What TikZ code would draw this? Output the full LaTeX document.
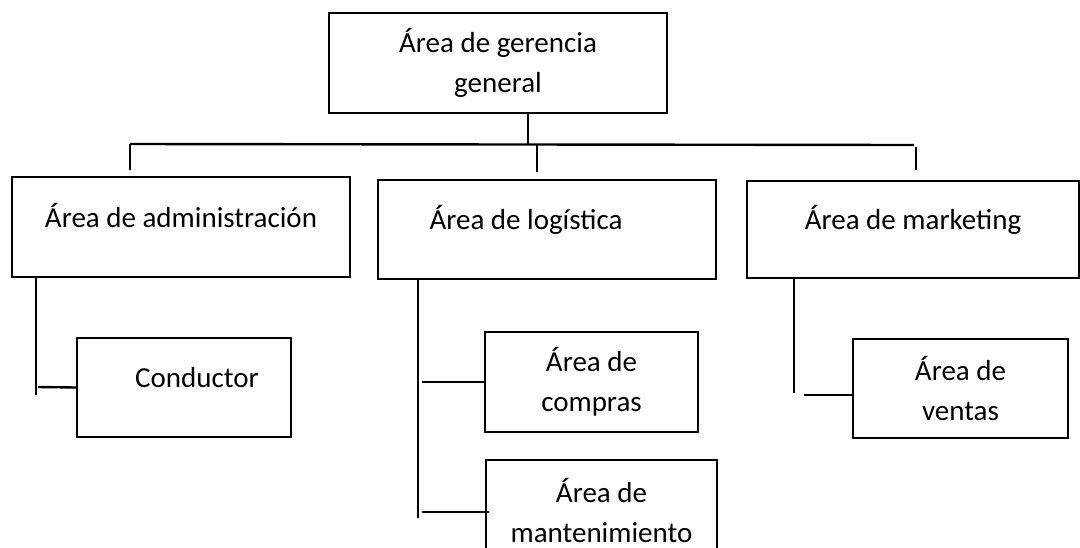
\documentclass[tikz,border=0pt]{standalone}
\usepackage{fontspec}
\setmainfont{Carlito}
\usetikzlibrary{positioning}

\begin{document}
\begin{tikzpicture}[
    x=1pt, y=-1pt,
    linestyle/.style={draw, line width=2.4pt},
    area/.style={rectangle, draw, line width=2.4pt, minimum width=338pt,
        minimum height=100pt, inner sep=0pt, font=\fontsize{29}{40}\selectfont},
    single/.style={text height=10pt, text depth=10pt},
    twoline/.style={align=center},
    subarea/.style={area, minimum width=214pt}
]
\useasboundingbox (0,0) rectangle (1080,547);
\clip (0,0) rectangle (1080,547);

\node (Gerencia) [area, twoline] at (498,63) {Área de gerencia\\general};
\node (Administracion) [area, single] at (181,227) {Área de administración};
\node (Logistica) [area, single, minimum height=99pt] at (547,229.5) {Área de logística\hspace*{42pt}};
\node (Marketing) [area, single, minimum width=332pt, minimum height=97pt] at (913,229.5) {Área de marketing};
\node (Conductor) [subarea, single, minimum height=99pt] at (184,387.5) {\hspace*{26pt}Conductor};
\node (Compras) [subarea, twoline, minimum width=213pt] at (591.5,382) {Área de\\compras};
\node (Mantenimiento) [subarea, twoline, minimum width=231pt] at (601.5,510) {Área de\\mantenimiento};
\node (Ventas) [subarea, twoline, minimum width=215pt, minimum height=99pt] at (960.5,388.5) {Área de\\ventas};

\coordinate (Bus) at (528,144);
\coordinate (BusWest) at (130,144);
\coordinate (BusEast) at (914,145);
\coordinate (DropAdmin) at (130,170);
\coordinate (DropLog) at (537,172);
\coordinate (DropMkt) at (916,170);

\draw[linestyle] (Gerencia.south -| Bus) -- (Bus);
\draw[linestyle] (BusWest) -- (BusEast);
\draw[linestyle] (BusWest) -- (DropAdmin);
\draw[linestyle] (BusWest -| DropLog) -- (DropLog);
\draw[linestyle] ([yshift=-2pt]BusEast -| DropMkt) -- (DropMkt);

\coordinate (AdmFoot) at (36,395);
\coordinate (CondTee) at (38,387);
\draw[linestyle] (Administracion.south -| AdmFoot) -- (AdmFoot);
\draw[linestyle] (CondTee) -- (Conductor.west);

\coordinate (LogFoot) at (418,518);
\coordinate (CompTee) at (422,382);
\coordinate (MantTee) at (422,512);
\draw[linestyle] (Logistica.south -| LogFoot) -- (LogFoot);
\draw[linestyle] (CompTee) -- (CompTee -| Compras.west);
\draw[linestyle] (MantTee) -- ([xshift=4pt]MantTee -| Mantenimiento.west);

\coordinate (MktFoot) at (794,393);
\coordinate (VenTee) at (804,395);
\draw[linestyle] (Marketing.south -| MktFoot) -- (MktFoot);
\draw[linestyle] (VenTee) -- (VenTee -| Ventas.west);

\end{tikzpicture}
\end{document}
